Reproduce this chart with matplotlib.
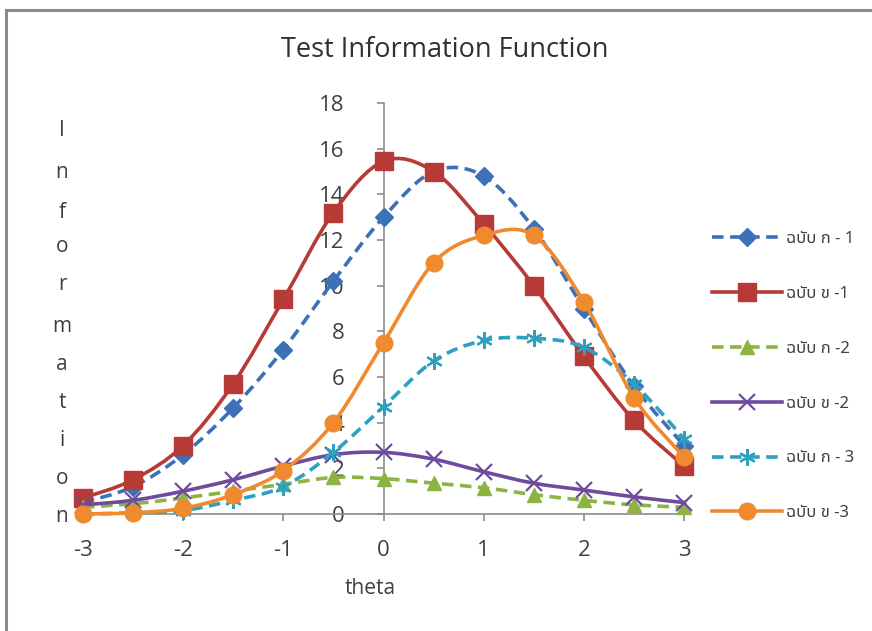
import numpy as np
import matplotlib
matplotlib.use("Agg")
import matplotlib.pyplot as plt
from matplotlib.path import Path
from matplotlib.patches import PathPatch, Rectangle
from matplotlib.lines import Line2D
from matplotlib import font_manager

# ---------------- data ----------------
theta = [-3, -2.5, -2, -1.5, -1, -0.5, 0, 0.5, 1, 1.5, 2, 2.5, 3]
ka1 = [0.5, 1.2, 2.6, 4.65, 7.2, 10.2, 13.0, 15.0, 14.8, 12.5, 9.0, 5.6, 3.0]
kh1 = [0.7, 1.5, 3.0, 5.7, 9.4, 13.2, 15.45, 15.0, 12.7, 10.0, 6.9, 4.1, 2.1]
ka2 = [0.3, 0.45, 0.7, 1.0, 1.3, 1.6, 1.55, 1.35, 1.15, 0.85, 0.6, 0.4, 0.3]
kh2 = [0.4, 0.6, 1.0, 1.5, 2.1, 2.6, 2.7, 2.4, 1.85, 1.35, 1.05, 0.75, 0.5]
ka3 = [0.0, 0.05, 0.15, 0.6, 1.2, 2.7, 4.7, 6.7, 7.6, 7.7, 7.3, 5.7, 3.3]
kh3 = [0.0, 0.05, 0.25, 0.85, 1.9, 4.0, 7.5, 11.0, 12.2, 12.2, 9.3, 5.1, 2.5]
labels = ["ฉบับ ก - 1", "ฉบับ ข -1", "ฉบับ ก -2", "ฉบับ ข -2", "ฉบับ ก - 3", "ฉบับ ข -3"]
series = [ka1, kh1, ka2, kh2, ka3, kh3]
title = "Test Information Function"
xlabel = "theta"
ylabel = "Information"
xticks = [-3, -2, -1, 0, 1, 2, 3]
yticks = [0, 2, 4, 6, 8, 10, 12, 14, 16, 18]

# ---------------- fonts ----------------
thai_font = None
try:
    from matplotlib.ft2font import FT2Font
    cands = []
    for f in font_manager.findSystemFonts():
        try:
            ft = FT2Font(f)
            cm = ft.get_charmap()
            if 0x0E09 in cm and 0x0E1A in cm and 0x0E31 in cm:
                name = font_manager.FontProperties(fname=f).get_name()
                cands.append((name, f))
        except Exception:
            pass
    pref = ['Noto Sans Thai', 'Noto Sans Thai UI', 'Loma', 'Garuda', 'Waree', 'Umpush',
            'Sawasdee', 'Laksaman', 'Kinnari', 'Norasi', 'Tlwg Typo']
    def rank(c):
        n, f = c
        bad = any(k in n for k in ['Mono', 'Typo', 'Typist']) or 'Bold' in f or 'Oblique' in f or 'Italic' in f
        for i, p in enumerate(pref):
            if n == p:
                return (bad, i)
        return (bad, 100)
    if cands:
        cands.sort(key=rank)
        thai_font, tf = cands[0]
        font_manager.fontManager.addfont(tf)
except Exception:
    pass

base = "Open Sans"
fam = [base, "DejaVu Sans"]
leg_fam = ([thai_font] if thai_font else []) + [base, "DejaVu Sans"]
plt.rcParams['font.family'] = fam

# ---------------- styles ----------------
colors = ['#3C71B8', '#B83A36', '#8DB443', '#6F4A9E', '#2FA0BF', '#F08A2E']
dashed = [True, False, True, False, True, False]
markers = ['D', 's', '^', 'x', (6, 2, 0), 'o']
msizes = [9.5, 13, 10, 11, 12, 12]
mew = [1, 1, 1, 1.6, 1.6, 1]
dash = (0, (3.2, 1.8))

fig = plt.figure(figsize=(8.72, 6.31), dpi=100)
W, H = 872, 631
ax = fig.add_axes([83 / W, (631 - 514) / H, (684 - 83) / W, (514 - 103) / H])
ax.set_xlim(-3, 3)
ax.set_ylim(0, 18)

# outer frame (left and top edges visible)
fig.patches.append(Rectangle((6 / W, -0.1), 1.2, 1 - 10 / H + 0.1, transform=fig.transFigure,
                             fill=False, edgecolor='#8a8a8a', linewidth=2.2))


def smooth_path(x, y):
    x = np.asarray(x, float)
    y = np.asarray(y, float)
    n = len(x)
    verts = [(x[0], y[0])]
    codes = [Path.MOVETO]
    for i in range(n - 1):
        p0 = np.array([x[max(i - 1, 0)], y[max(i - 1, 0)]])
        p1 = np.array([x[i], y[i]])
        p2 = np.array([x[i + 1], y[i + 1]])
        p3 = np.array([x[min(i + 2, n - 1)], y[min(i + 2, n - 1)]])
        c1 = p1 + (p2 - p0) / 6.0
        c2 = p2 - (p3 - p1) / 6.0
        verts += [tuple(c1), tuple(c2), tuple(p2)]
        codes += [Path.CURVE4] * 3
    return Path(verts, codes)


handles = []
for i, (ys, lab) in enumerate(zip(series, labels)):
    ls = dash if dashed[i] else '-'
    patch = PathPatch(smooth_path(theta, ys), facecolor='none', edgecolor=colors[i],
                      linewidth=2.6, linestyle=ls, zorder=3 + i * 0.1, clip_on=False)
    ax.add_patch(patch)
    ax.plot(theta, ys, linestyle='none', marker=markers[i], markersize=msizes[i],
            markerfacecolor=colors[i], markeredgecolor=colors[i], markeredgewidth=mew[i],
            zorder=3.05 + i * 0.1, clip_on=False)
    handles.append(Line2D([], [], color=colors[i], linewidth=2.6, linestyle=ls,
                          marker=markers[i], markersize=msizes[i], markerfacecolor=colors[i],
                          markeredgecolor=colors[i], markeredgewidth=mew[i]))

# axes styling
for s in ['top', 'right']:
    ax.spines[s].set_visible(False)
ax.spines['left'].set_position(('data', 0))
for s in ['left', 'bottom']:
    ax.spines[s].set_color('#8c8c8c')
    ax.spines[s].set_linewidth(1.2)
ax.set_xticks(xticks)
ax.set_yticks(yticks)
ax.set_xticklabels([str(v) for v in xticks])
ax.set_yticklabels([str(v) for v in yticks])
ax.tick_params(axis='both', direction='out', length=5, color='#8c8c8c', width=1.2,
               labelsize=16, labelcolor='#404040')
ax.tick_params(axis='x', pad=14)
ax.tick_params(axis='y', pad=23)
ax.patch.set_visible(False)

fig.text(445 / W, 1 - 50 / H, title, ha='center', va='center', fontsize=19.5, color='#303030')
fig.text(370 / W, 1 - 589 / H, xlabel, ha='center', va='center', fontsize=15, color='#404040')
ypos = [130, 172, 213, 246, 285, 327, 365, 403, 440, 478, 517]
for ch, yp in zip(ylabel, ypos):
    fig.text(62 / W, 1 - yp / H, ch, ha='center', va='center', fontsize=15, color='#404040')

leg = fig.legend(handles, labels, loc='upper left', bbox_to_anchor=(712 / W, 1 - 231 / H),
                 frameon=False, handlelength=4.2, labelspacing=2.33, handletextpad=0.25,
                 prop={'family': leg_fam, 'size': 12}, borderaxespad=0, borderpad=0)
for t in leg.get_texts():
    t.set_color('#404040')

fig.savefig('out.png', dpi=100)
